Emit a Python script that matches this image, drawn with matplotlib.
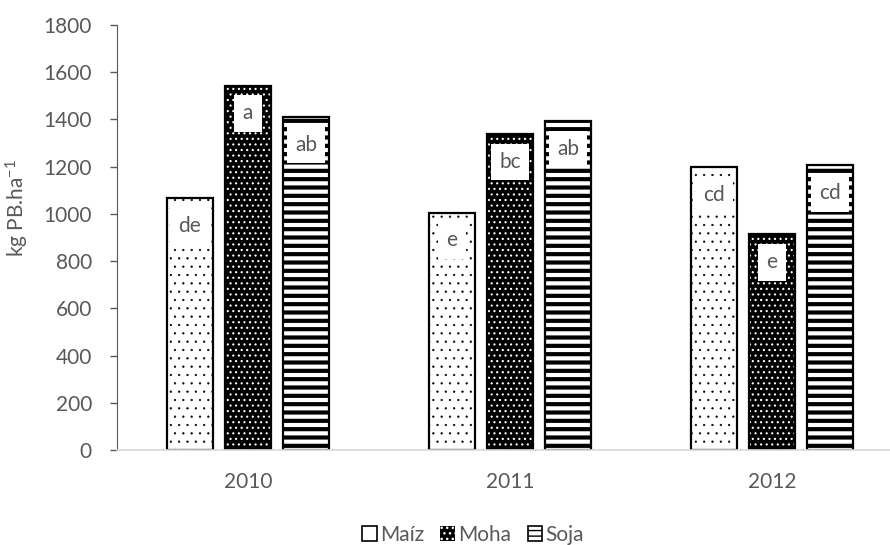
import numpy as np
import matplotlib.pyplot as plt
from matplotlib.patches import Patch

plt.rcParams['font.family'] = ['Lato', 'DejaVu Sans']
plt.rcParams['mathtext.default'] = 'regular'

years = ['2010', '2011', '2012']
series = ['Maíz', 'Moha', 'Soja']
maiz = [1068, 1005, 1198]
moha = [1543, 1338, 913]
soja = [1410, 1393, 1205]
letras_maiz = ['de', 'e', 'cd']
letras_moha = ['a', 'bc', 'e']
letras_soja = ['ab', 'ab', 'cd']

gris = '#595959'
fs = 15

fig = plt.figure(figsize=(8.9, 5.45), dpi=100)
ax = fig.add_axes([117 / 890, 95 / 545, 786 / 890, 425 / 545])

x = np.arange(len(years))
w = 0.176
d = 0.222


def hatch_lw(p, lw):
    if hasattr(p, 'set_hatch_linewidth'):
        p.set_hatch_linewidth(lw)


# Maiz: blanco con puntos negros
b1 = ax.bar(x - d, maiz, w, color='white', edgecolor='black', linewidth=1.6, hatch='..')
for p in b1:
    hatch_lw(p, 0.4)

# Moha: negro con puntos blancos
b2 = ax.bar(x, moha, w, color='black', edgecolor='white', linewidth=0, hatch='...')
for p in b2:
    hatch_lw(p, 0.8)
ax.bar(x, moha, w, fill=False, edgecolor='black', linewidth=1.6)

# Soja: rayas horizontales
b3 = ax.bar(x + d, soja, w, color='white', edgecolor='black', linewidth=1.6, hatch='--')
for p in b3:
    hatch_lw(p, 3.0)

for off, vals, lets in [(-d, maiz, letras_maiz), (0, moha, letras_moha), (d, soja, letras_soja)]:
    for xi, v, t in zip(x + off, vals, lets):
        ax.annotate(t, (xi, v), xytext=(0, -20), textcoords='offset points',
                    ha='center', va='center', fontsize=fs, color=gris,
                    bbox=dict(boxstyle='square,pad=0.4', fc='white', ec='none'))

ax.set_xlim(-0.5, 2.5)
ax.set_ylim(0, 1800)
ax.set_yticks(np.arange(0, 1801, 200))
ax.set_xticks(x)
ax.set_xticklabels(years)
ax.tick_params(axis='x', length=0, pad=16, labelsize=fs, labelcolor=gris)
ax.tick_params(axis='y', direction='out', length=5, width=1, color=gris, pad=13,
               labelsize=fs, labelcolor=gris)
for s in ['top', 'right']:
    ax.spines[s].set_visible(False)
ax.spines['left'].set_color(gris)
ax.spines['bottom'].set_color('#d9d9d9')
ax.spines['bottom'].set_linewidth(1.2)

ax.set_ylabel('kg PB.ha$^{-1}$', fontsize=fs, color=gris)
ax.yaxis.set_label_coords(-0.109, 0.57)

h1 = Patch(facecolor='white', edgecolor='black', linewidth=1.2)
h2 = Patch(facecolor='black', edgecolor='white', hatch='...', linewidth=0)
h3 = Patch(facecolor='white', edgecolor='black', hatch='---', linewidth=1.2)
hatch_lw(h2, 1.2)
hatch_lw(h3, 2.5)
leg = fig.legend([h1, h2, h3], series, loc='center', bbox_to_anchor=(473 / 890, 10 / 545),
                 ncol=3, frameon=False, fontsize=fs, handlelength=0.7, handleheight=0.7,
                 handletextpad=0.15, columnspacing=0.8, borderpad=0)
for t in leg.get_texts():
    t.set_color(gris)

fig.savefig('out.png', dpi=100)
